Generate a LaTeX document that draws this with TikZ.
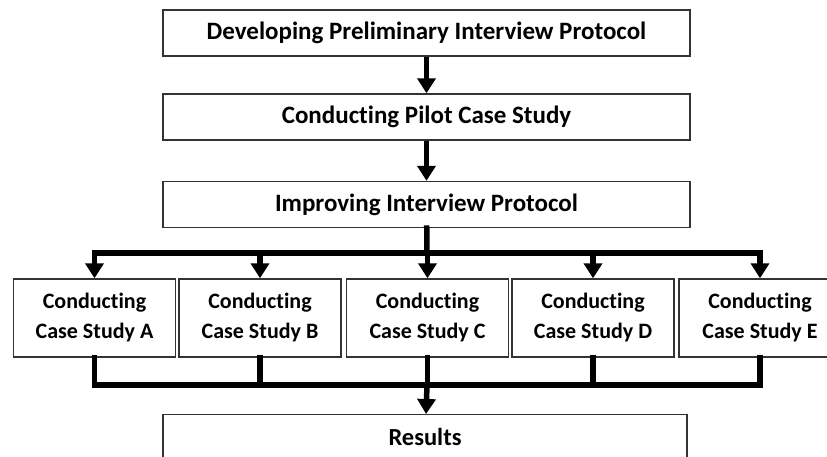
\documentclass[tikz,border=0pt]{standalone}
\usepackage{fontspec}
\setmainfont{Carlito}[Ligatures=NoCommon]
\usetikzlibrary{arrows.meta,positioning}

\begin{document}
\begin{tikzpicture}[x=1pt,y=-1pt,>={Triangle[width=18pt,length=15pt]},
box/.style={draw=black!80,line width=1.4pt,fill=white,align=center,inner sep=0pt},
wide/.style={box,minimum width=527pt,minimum height=46pt,font=\bfseries\fontsize{25}{30}\selectfont},
study/.style={box,minimum width=162pt,minimum height=78pt,font=\bfseries\fontsize{22}{30}\selectfont},
flow/.style={->,line width=5.5pt,draw=black},
bus/.style={line width=5.5pt,draw=black,line cap=rect}]
\useasboundingbox[fill=white] (0,0) rectangle (827,457);
\node[wide] (develop) at (426.5,33) {Developing Preliminary Interview Protocol};
\node[wide] (pilot) at (426.5,117) {Conducting Pilot Case Study};
\node[wide] (improve) at (426.5,204.5) {Improving Interview Protocol};
\node[study] (studyA) at (94.5,318) {Conducting\\Case Study A};
\node[study] (studyB) at (260,318) {Conducting\\Case Study B};
\node[study] (studyC) at (427.5,318) {Conducting\\Case Study C};
\node[study] (studyD) at (593,318) {Conducting\\Case Study D};
\node[study] (studyE) at (760,318) {Conducting\\Case Study E};
\node[box,minimum width=524pt,minimum height=60pt,anchor=north] (results) at (425,414) {};
\node[font=\bfseries\fontsize{24.5}{30}\selectfont] (restext) at (425,437) {Results};
\coordinate (split) at (427,253);
\coordinate (join) at (427,385);
\draw[flow] (develop)--(pilot);
\draw[flow] (pilot)--(improve);
\draw[bus] (improve)--(split);
\draw[bus] (studyA.north|-split)--(studyE.north|-split);
\foreach \s in {A,B,C,D,E}
  \draw[flow] (study\s.north|-split)--(study\s);
\draw[bus] (studyA)--(studyA.south|-join)--(studyE.south|-join)--(studyE);
\foreach \s in {B,C,D}
  \draw[bus] (study\s)--(study\s.south|-join);
\draw[flow] (join)--(results);
\end{tikzpicture}
\end{document}
